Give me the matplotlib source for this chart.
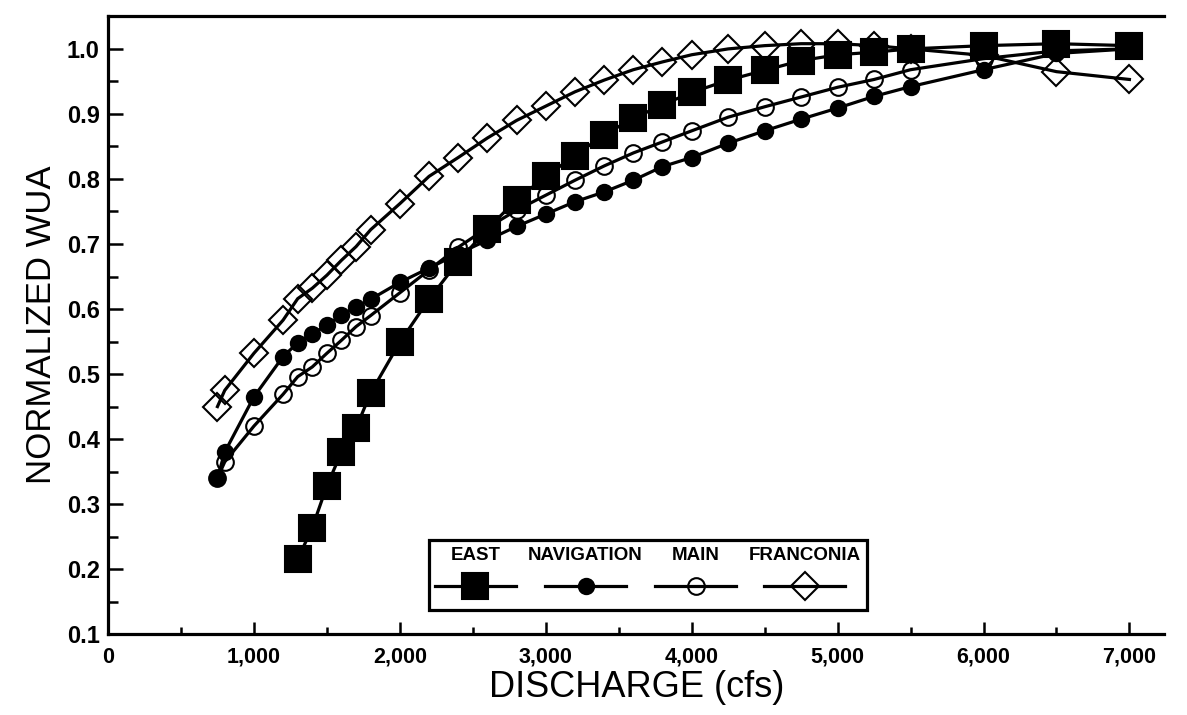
import matplotlib
matplotlib.use("Agg")
from matplotlib import pyplot as plt
from matplotlib.lines import Line2D
from matplotlib.offsetbox import (AnchoredOffsetbox, DrawingArea, HPacker,
                                  TextArea, VPacker)
from matplotlib.ticker import FuncFormatter, MultipleLocator

plt.rcParams['font.family'] = ['Liberation Sans', 'DejaVu Sans']

# discharge (cfs) and normalized WUA for each reach
east_q = [1300, 1400, 1500, 1600, 1700, 1800, 2000, 2200, 2400, 2600, 2800,
          3000, 3200, 3400, 3600, 3800, 4000, 4250, 4500, 4750, 5000, 5250,
          5500, 6000, 6500, 7000]
east_wua = [0.215, 0.264, 0.328, 0.380, 0.417, 0.471, 0.549, 0.615, 0.673,
            0.723, 0.768, 0.804, 0.836, 0.868, 0.893, 0.914, 0.933, 0.952,
            0.967, 0.982, 0.991, 0.995, 1.000, 1.005, 1.008, 1.005]

curve_q = [750, 800, 1000, 1200, 1300, 1400, 1500, 1600, 1700, 1800, 2000,
           2200, 2400, 2600, 2800, 3000, 3200, 3400, 3600, 3800, 4000, 4250,
           4500, 4750, 5000, 5250, 5500, 6000, 6500, 7000]
nav_wua = [0.340, 0.380, 0.465, 0.527, 0.548, 0.562, 0.575, 0.591, 0.603,
           0.615, 0.641, 0.663, 0.685, 0.706, 0.727, 0.746, 0.765, 0.780,
           0.798, 0.819, 0.833, 0.855, 0.874, 0.892, 0.909, 0.927, 0.942,
           0.968, 0.993, 1.000]
main_wua = [0.340, 0.365, 0.420, 0.469, 0.496, 0.511, 0.532, 0.552, 0.573,
            0.590, 0.625, 0.660, 0.695, 0.725, 0.752, 0.775, 0.798, 0.820,
            0.840, 0.857, 0.874, 0.895, 0.911, 0.926, 0.941, 0.953, 0.968,
            0.985, 0.997, 1.000]
fran_wua = [0.450, 0.475, 0.532, 0.583, 0.616, 0.632, 0.652, 0.675, 0.696,
            0.722, 0.762, 0.804, 0.833, 0.863, 0.890, 0.912, 0.934, 0.952,
            0.968, 0.980, 0.991, 1.000, 1.005, 1.008, 1.008, 1.005, 1.000,
            0.990, 0.965, 0.953]

labels = ['EAST', 'NAVIGATION', 'MAIN', 'FRANCONIA']

# marker styles per series (same order as labels)
styles = [
    dict(marker='s', ms=19, mfc='black', mec='black', mew=1.5),
    dict(marker='o', ms=11, mfc='black', mec='black', mew=1.5),
    dict(marker='o', ms=12, mfc='none', mec='black', mew=1.5),
    dict(marker='D', ms=14, mfc='none', mec='black', mew=1.5),
]

fig = plt.figure(figsize=(11.87, 7.15), dpi=100)
ax = fig.add_axes([0.091, 0.113, 0.890, 0.865])

series = [(curve_q, fran_wua, styles[3]),
          (curve_q, main_wua, styles[2]),
          (curve_q, nav_wua, styles[1]),
          (east_q, east_wua, styles[0])]
for q, w, st in series:
    ax.plot(q, w, color='black', lw=2.3, **st)

ax.set_xlim(0, 7240)
ax.set_ylim(0.1, 1.051)

ax.spines['right'].set_visible(False)
for s in ('left', 'bottom', 'top'):
    ax.spines[s].set_linewidth(2.3)

ax.xaxis.set_major_locator(MultipleLocator(1000))
ax.xaxis.set_minor_locator(MultipleLocator(500))
ax.yaxis.set_major_locator(MultipleLocator(0.1))
ax.yaxis.set_minor_locator(MultipleLocator(0.05))
ax.xaxis.set_major_formatter(FuncFormatter(lambda v, p: f"{v:,.0f}"))
ax.yaxis.set_major_formatter(FuncFormatter(lambda v, p: f"{v:.1f}"))

ax.tick_params(axis='x', which='major', direction='in', length=9, width=1.8,
               pad=9, labelsize=15.5, top=False)
ax.tick_params(axis='x', which='minor', direction='in', length=5, width=1.8,
               top=False)
ax.tick_params(axis='y', which='major', direction='in', length=11, width=1.8,
               pad=6, labelsize=17, right=False)
ax.tick_params(axis='y', which='minor', direction='in', length=7, width=1.8,
               right=False)
for t in ax.get_xticklabels() + ax.get_yticklabels():
    t.set_fontweight('bold')

ax.set_xlabel('DISCHARGE (cfs)', fontsize=26, labelpad=2)
ax.set_ylabel('NORMALIZED WUA', fontsize=25, labelpad=6)

# legend: label on top, line + marker below
cols = []
for lab, st in zip(labels, styles):
    da = DrawingArea(58, 26)
    da.add_artist(Line2D([0, 58], [13, 13], color='black', lw=2.3))
    da.add_artist(Line2D([29], [13], color='black', **st))
    txt = TextArea(lab, textprops=dict(fontsize=13.5, fontweight='bold'))
    cols.append(VPacker(children=[txt, da], align='center', pad=0, sep=3))
box = HPacker(children=cols, align='center', pad=0, sep=9)
anchored = AnchoredOffsetbox(loc='lower center', child=box, pad=0.45,
                             frameon=True, borderpad=0,
                             bbox_to_anchor=(0.511, 0.039),
                             bbox_transform=ax.transAxes)
anchored.patch.set_linewidth(2.3)
anchored.patch.set_edgecolor('black')
ax.add_artist(anchored)

fig.savefig('out.png', dpi=100)
